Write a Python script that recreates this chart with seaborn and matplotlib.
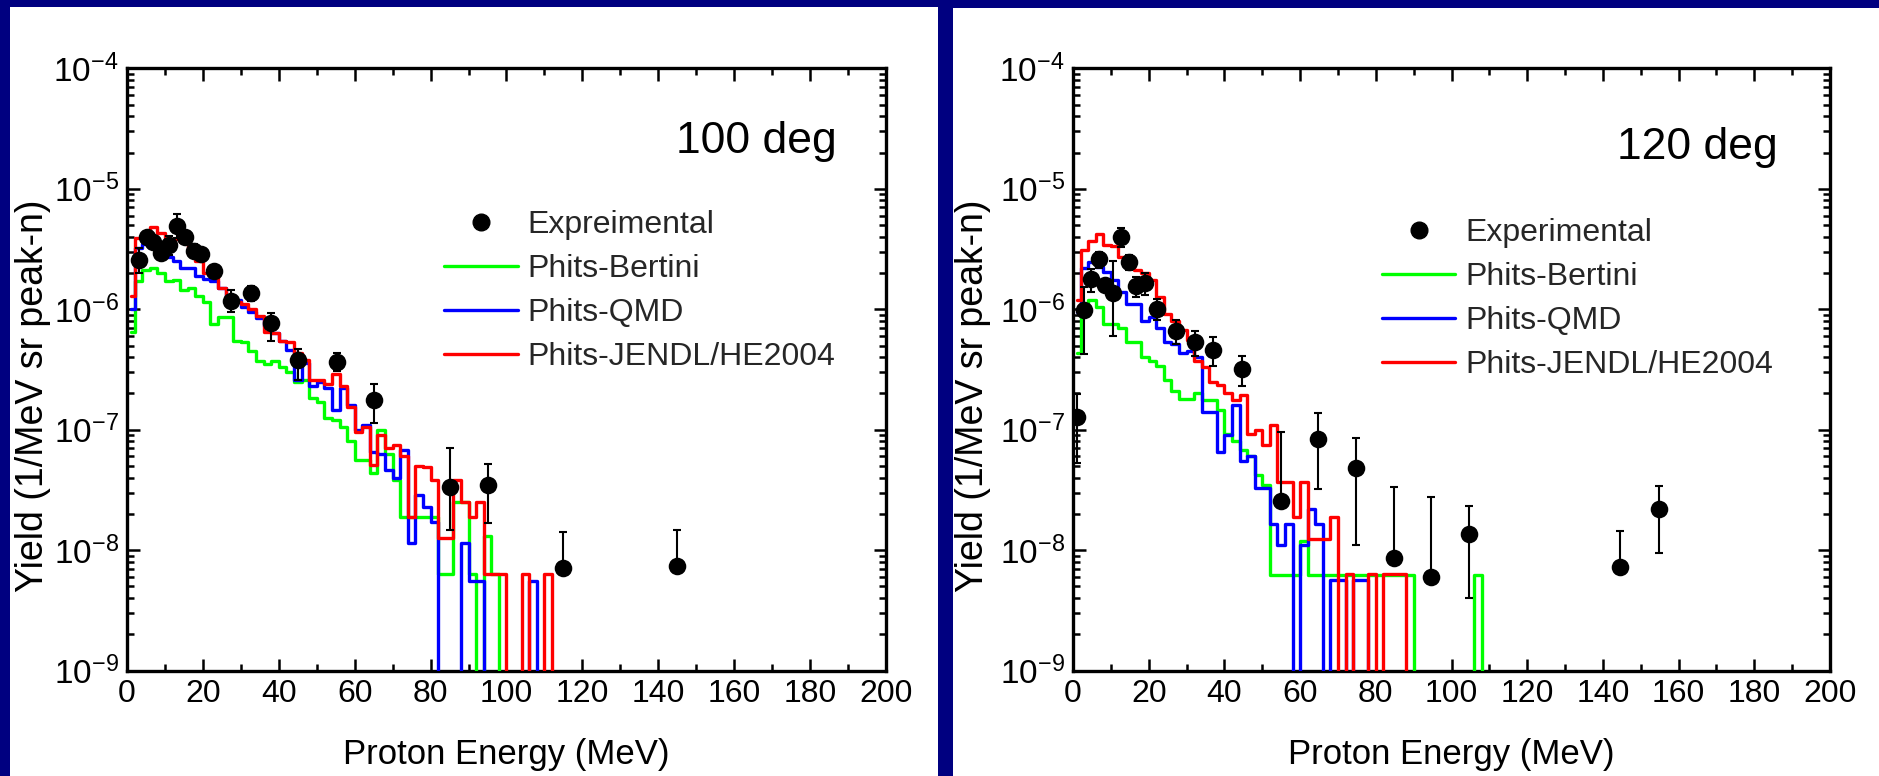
import numpy as np
import pandas as pd
import matplotlib
matplotlib.use("Agg")
import matplotlib.pyplot as plt
from matplotlib.patches import Rectangle
from matplotlib.lines import Line2D
from matplotlib.ticker import LogLocator, MultipleLocator, FixedLocator, FixedFormatter, NullFormatter
import seaborn as sns

# ---------------- data : 100 deg ----------------
edges_100 = [1] + list(range(2, 114, 2))          # bin edges (MeV)
bertini_100 = [6.5e-7, 1.7e-6, 2.1e-6, 2.2e-6, 2.0e-6, 1.7e-6, 1.75e-6, 1.45e-6, 1.5e-6, 1.3e-6,
               1.15e-6, 7.5e-7, 8.7e-7, 8.7e-7, 5.5e-7, 5.4e-7, 4.5e-7, 3.7e-7, 3.5e-7, 3.7e-7,
               3.3e-7, 3.0e-7, 2.5e-7, 2.6e-7, 1.85e-7, 1.7e-7, 1.25e-7, 1.2e-7, 1.05e-7, 8.0e-8,
               5.6e-8, 5.6e-8, 4.4e-8, 1.0e-7, 6.3e-8, 3.8e-8, 1.9e-8, 1.9e-8, 1.9e-8, 1.9e-8,
               1.9e-8, 6.3e-9, 6.3e-9, 2.5e-8, 2.5e-8, 6.3e-9, 0, 1.3e-8, 6.3e-9, 0,
               0, 0, 0, 0, 0, 0]
qmd_100 = [1.0e-6, 3.2e-6, 3.5e-6, 3.5e-6, 3.0e-6, 2.7e-6, 2.5e-6, 2.2e-6, 2.2e-6, 1.9e-6,
           1.8e-6, 1.7e-6, 1.5e-6, 1.3e-6, 1.2e-6, 1.05e-6, 9.5e-7, 8.5e-7, 7.2e-7, 6.3e-7,
           5.5e-7, 4.6e-7, 2.6e-7, 3.6e-7, 2.3e-7, 2.5e-7, 2.2e-7, 1.45e-7, 2.2e-7, 1.6e-7,
           1.0e-7, 1.1e-7, 6.5e-8, 6.3e-8, 4.6e-8, 4.0e-8, 6.8e-8, 1.15e-8, 2.9e-8, 2.3e-8,
           1.7e-8, 0, 0, 0, 1.15e-8, 5.6e-9, 5.6e-9, 0, 0, 0,
           0, 0, 0, 5.6e-9, 0, 0]
jendl_100 = [1.3e-6, 3.9e-6, 4.2e-6, 4.8e-6, 4.3e-6, 3.8e-6, 3.8e-6, 3.6e-6, 2.9e-6, 2.5e-6,
             2.0e-6, 1.9e-6, 1.5e-6, 1.3e-6, 1.15e-6, 1.1e-6, 1.0e-6, 8.8e-7, 6.5e-7, 6.4e-7,
             5.5e-7, 5.3e-7, 4.3e-7, 3.8e-7, 2.6e-7, 2.6e-7, 2.4e-7, 2.9e-7, 2.3e-7, 1.55e-7,
             9.5e-8, 1.05e-7, 5.1e-8, 9.0e-8, 7.0e-8, 7.5e-8, 6.0e-8, 1.9e-8, 5.0e-8, 4.9e-8,
             3.8e-8, 1.26e-8, 1.26e-8, 3.8e-8, 2.5e-8, 1.9e-8, 2.5e-8, 6.3e-9, 6.3e-9, 6.3e-9,
             0, 0, 6.3e-9, 0, 0, 6.3e-9]
exp_E_100 = [3.25, 5.2, 6.9, 8.9, 11.1, 13.3, 15.3, 17.6, 19.4, 22.9, 27.4, 32.6, 37.9,
             45.1, 55.3, 65.2, 85.0, 95.0, 115.0, 145.0]
exp_Y_100 = [2.56e-6, 3.95e-6, 3.64e-6, 2.95e-6, 3.42e-6, 4.9e-6, 3.95e-6, 3.06e-6, 2.87e-6,
             2.09e-6, 1.18e-6, 1.36e-6, 7.65e-7, 3.8e-7, 3.67e-7, 1.77e-7, 3.37e-8, 3.48e-8,
             7.1e-9, 7.4e-9]
exp_lo_100 = [5.7e-7, 3.0e-7, 3.0e-7, 3.0e-7, 6.0e-7, 1.0e-6, 5.0e-7, 4.0e-7, 3.5e-7,
              2.5e-7, 2.3e-7, 2.0e-7, 2.2e-7, 1.2e-7, 6.0e-8, 6.4e-8, 1.9e-8, 1.8e-8, 0, 0]
exp_hi_100 = [6.4e-7, 3.0e-7, 3.0e-7, 3.0e-7, 6.0e-7, 1.3e-6, 5.0e-7, 4.0e-7, 3.5e-7,
              2.5e-7, 2.7e-7, 2.0e-7, 1.6e-7, 9.0e-8, 7.0e-8, 6.3e-8, 3.7e-8, 1.7e-8, 7.0e-9, 7.2e-9]

# ---------------- data : 120 deg ----------------
edges_120 = [1] + list(range(2, 110, 2))
bertini_120 = [4.3e-7, 9.5e-7, 1.2e-6, 1.05e-6, 7.6e-7, 7.6e-7, 7.0e-7, 5.3e-7, 5.3e-7, 4.0e-7,
               3.7e-7, 3.4e-7, 2.6e-7, 2.1e-7, 1.8e-7, 1.8e-7, 2.0e-7, 1.75e-7, 1.75e-7, 1.45e-7,
               9.3e-8, 8.0e-8, 6.8e-8, 6.0e-8, 4.2e-8, 3.5e-8, 6.2e-9, 6.2e-9, 6.2e-9, 6.2e-9,
               1.2e-8, 6.2e-9, 6.2e-9, 6.2e-9, 6.2e-9, 6.2e-9, 6.2e-9, 6.2e-9, 6.2e-9, 6.2e-9,
               6.2e-9, 6.2e-9, 6.2e-9, 6.2e-9, 6.2e-9, 0, 0, 0, 0, 0,
               0, 0, 0, 6.2e-9]
qmd_120 = [9.5e-7, 2.2e-6, 2.45e-6, 2.25e-6, 2.05e-6, 1.75e-6, 1.4e-6, 1.1e-6, 1.1e-6, 8.0e-7,
           8.6e-7, 7.0e-7, 5.4e-7, 5.1e-7, 4.3e-7, 4.5e-7, 4.0e-7, 1.4e-7, 1.4e-7, 6.5e-8,
           9.0e-8, 1.6e-7, 5.5e-8, 6.0e-8, 3.3e-8, 3.3e-8, 1.66e-8, 1.1e-8, 1.66e-8, 0,
           1.1e-8, 2.2e-8, 1.66e-8, 0, 5.7e-9, 5.7e-9, 0, 5.7e-9, 5.7e-9, 0,
           0, 0, 0, 0, 0, 0, 0, 0, 0, 0,
           0, 0, 0, 0]
jendl_120 = [1.2e-6, 3.1e-6, 3.7e-6, 4.2e-6, 3.4e-6, 3.35e-6, 2.7e-6, 2.6e-6, 2.1e-6, 2.0e-6,
             1.75e-6, 1.27e-6, 9.2e-7, 8.0e-7, 6.7e-7, 5.6e-7, 3.7e-7, 3.3e-7, 2.5e-7, 2.35e-7,
             2.0e-7, 1.75e-7, 1.95e-7, 9.3e-8, 1.0e-7, 7.5e-8, 1.1e-7, 3.7e-8, 3.7e-8, 1.9e-8,
             3.7e-8, 1.24e-8, 1.24e-8, 1.24e-8, 1.9e-8, 0, 6.3e-9, 0, 0, 6.3e-9,
             0, 6.3e-9, 6.3e-9, 6.3e-9, 0, 0, 0, 0, 0, 0,
             0, 0, 0, 0]
exp_E_120 = [0.97, 2.9, 4.67, 6.87, 8.45, 10.65, 12.6, 14.8, 16.6, 19.0, 22.1, 27.2, 32.2,
             37.1, 44.7, 54.85, 64.7, 74.8, 84.9, 94.7, 104.7, 144.6, 154.7]
exp_Y_120 = [1.28e-7, 9.86e-7, 1.77e-6, 2.61e-6, 1.58e-6, 1.36e-6, 4.0e-6, 2.46e-6, 1.56e-6,
             1.66e-6, 1.01e-6, 6.6e-7, 5.3e-7, 4.6e-7, 3.2e-7, 2.58e-8, 8.3e-8, 4.8e-8, 8.7e-9,
             6.04e-9, 1.36e-8, 7.2e-9, 2.18e-8]
exp_lo_120 = [7.5e-8, 5.6e-7, 3.7e-7, 4.0e-7, 2.0e-7, 7.6e-7, 7.0e-7, 3.5e-7, 3.0e-7,
              3.5e-7, 2.0e-7, 1.5e-7, 1.2e-7, 1.2e-7, 9.0e-8, 0, 5.1e-8, 3.7e-8, 0,
              0, 9.6e-9, 0, 1.23e-8]
exp_hi_120 = [7.0e-8, 5.3e-7, 3.8e-7, 4.0e-7, 2.0e-7, 1.14e-6, 7.0e-7, 3.5e-7, 3.0e-7,
              3.5e-7, 2.0e-7, 1.5e-7, 1.3e-7, 1.3e-7, 9.0e-8, 7.0e-8, 5.4e-8, 3.7e-8, 2.5e-8,
              2.15e-8, 9.7e-9, 7.2e-9, 1.25e-8]

series_labels = ["Phits-Bertini", "Phits-QMD", "Phits-JENDL/HE2004"]
series_colors = ["#00FF00", "#0000FF", "#FF0000"]
ytick_vals = [1e-9, 1e-8, 1e-7, 1e-6, 1e-5, 1e-4]
ytick_labels = [r"$10^{-9}$", r"$10^{-8}$", r"$10^{-7}$", r"$10^{-6}$", r"$10^{-5}$", r"$10^{-4}$"]
xtick_vals = list(range(0, 220, 20))

# ---------------- style ----------------
sns.set_theme(style="white")
plt.rcParams["font.family"] = ["Liberation Sans", "DejaVu Sans"]
plt.rcParams["mathtext.fontset"] = "custom"
plt.rcParams["mathtext.rm"] = "Liberation Sans"
plt.rcParams["mathtext.it"] = "Liberation Sans:italic"
plt.rcParams["mathtext.bf"] = "Liberation Sans:bold"

W, H = 1879, 776
FLOOR = 1e-12
NAVY = "#000080"

fig = plt.figure(figsize=(W / 100, H / 100), dpi=100)
fig.patch.set_facecolor(NAVY)
fig.add_artist(Rectangle((10 / W, 0), (938 - 10) / W, (H - 7) / H, transform=fig.transFigure,
                         facecolor="white", edgecolor="none", zorder=0))
fig.add_artist(Rectangle((953 / W, 0), (W - 953) / W, (H - 8) / H, transform=fig.transFigure,
                         facecolor="white", edgecolor="none", zorder=0))


def step_frame(edges, values):
    v = np.asarray(values, float)
    v = np.where(v > 0, v, FLOOR)
    return pd.DataFrame({"E": np.asarray(edges, float), "Y": np.append(v, FLOOR)})


def panel(rect, edges, sims, eE, eY, elo, ehi, angle_text, exp_label, ylab_x, leg_anchor, txt_pos):
    ax = fig.add_axes(rect)
    ax.set_facecolor("white")
    ax.set_yscale("log")
    ax.set_xlim(0, 200)
    ax.set_ylim(1e-9, 1e-4)
    for vals, col in zip(sims, series_colors):
        df = step_frame(edges, vals)
        sns.lineplot(data=df, x="E", y="Y", ax=ax, color=col, linewidth=2.4,
                     drawstyle="steps-post", estimator=None, sort=False, legend=False, zorder=3)
    ax.errorbar(eE, eY, yerr=[elo, ehi], fmt="none", ecolor="black", elinewidth=1.5,
                capsize=3, capthick=1.5, zorder=4)
    sns.scatterplot(x=eE, y=eY, ax=ax, color="black", s=160, edgecolor="black", linewidth=0,
                    legend=False, zorder=5)

    for sp in ax.spines.values():
        sp.set_color("black")
        sp.set_linewidth(2.4)
        sp.set_visible(True)
    ax.xaxis.set_major_locator(FixedLocator(xtick_vals))
    ax.xaxis.set_minor_locator(MultipleLocator(10))
    ax.yaxis.set_major_locator(FixedLocator(ytick_vals))
    ax.yaxis.set_major_formatter(FixedFormatter(ytick_labels))
    ax.yaxis.set_minor_locator(LogLocator(base=10, subs=np.arange(2, 10), numticks=20))
    ax.yaxis.set_minor_formatter(NullFormatter())
    ax.tick_params(which="both", direction="in", top=True, right=True, bottom=True, left=True,
                   colors="black", width=1.8)
    ax.tick_params(which="major", length=9)
    ax.tick_params(axis="x", which="major", pad=6, labelsize=23)
    ax.tick_params(axis="y", which="major", pad=6, labelsize=24)
    ax.tick_params(which="minor", length=5)

    ax.set_xlabel("Proton Energy (MeV)", fontsize=25, color="black")
    ax.xaxis.set_label_coords(0.5, -0.112)
    ax.set_ylabel("Yield (1/MeV sr peak-n)", fontsize=27, color="black")
    ax.yaxis.set_label_coords(ylab_x, 0.456)

    ax.text(txt_pos[0], txt_pos[1], angle_text, transform=ax.transAxes, fontsize=32,
            ha="left", va="baseline", color="black")

    handles = [Line2D([], [], marker="o", color="black", linestyle="none", markersize=12)]
    handles += [Line2D([], [], color=c, linewidth=2.4) for c in series_colors]
    ax.legend(handles, [exp_label] + series_labels, loc="upper left", bbox_to_anchor=leg_anchor,
              frameon=False, fontsize=23, handlelength=2.3, handletextpad=0.3,
              labelspacing=0.44, borderaxespad=0, borderpad=0)
    return ax


panel([127 / W, (H - 670.7) / H, 759 / W, 602.4 / H], edges_100,
      [bertini_100, qmd_100, jendl_100], exp_E_100, exp_Y_100, exp_lo_100, exp_hi_100,
      "100 deg", "Expreimental", -0.100, (0.4177, 0.765), (0.7233, 0.8586))
panel([1073 / W, (H - 670.7) / H, 757 / W, 602.4 / H], edges_120,
      [bertini_120, qmd_120, jendl_120], exp_E_120, exp_Y_120, exp_lo_120, exp_hi_120,
      "120 deg", "Experimental", -0.108, (0.408, 0.752), (0.7186, 0.850))

fig.savefig("out.png", dpi=100, facecolor=fig.get_facecolor())
